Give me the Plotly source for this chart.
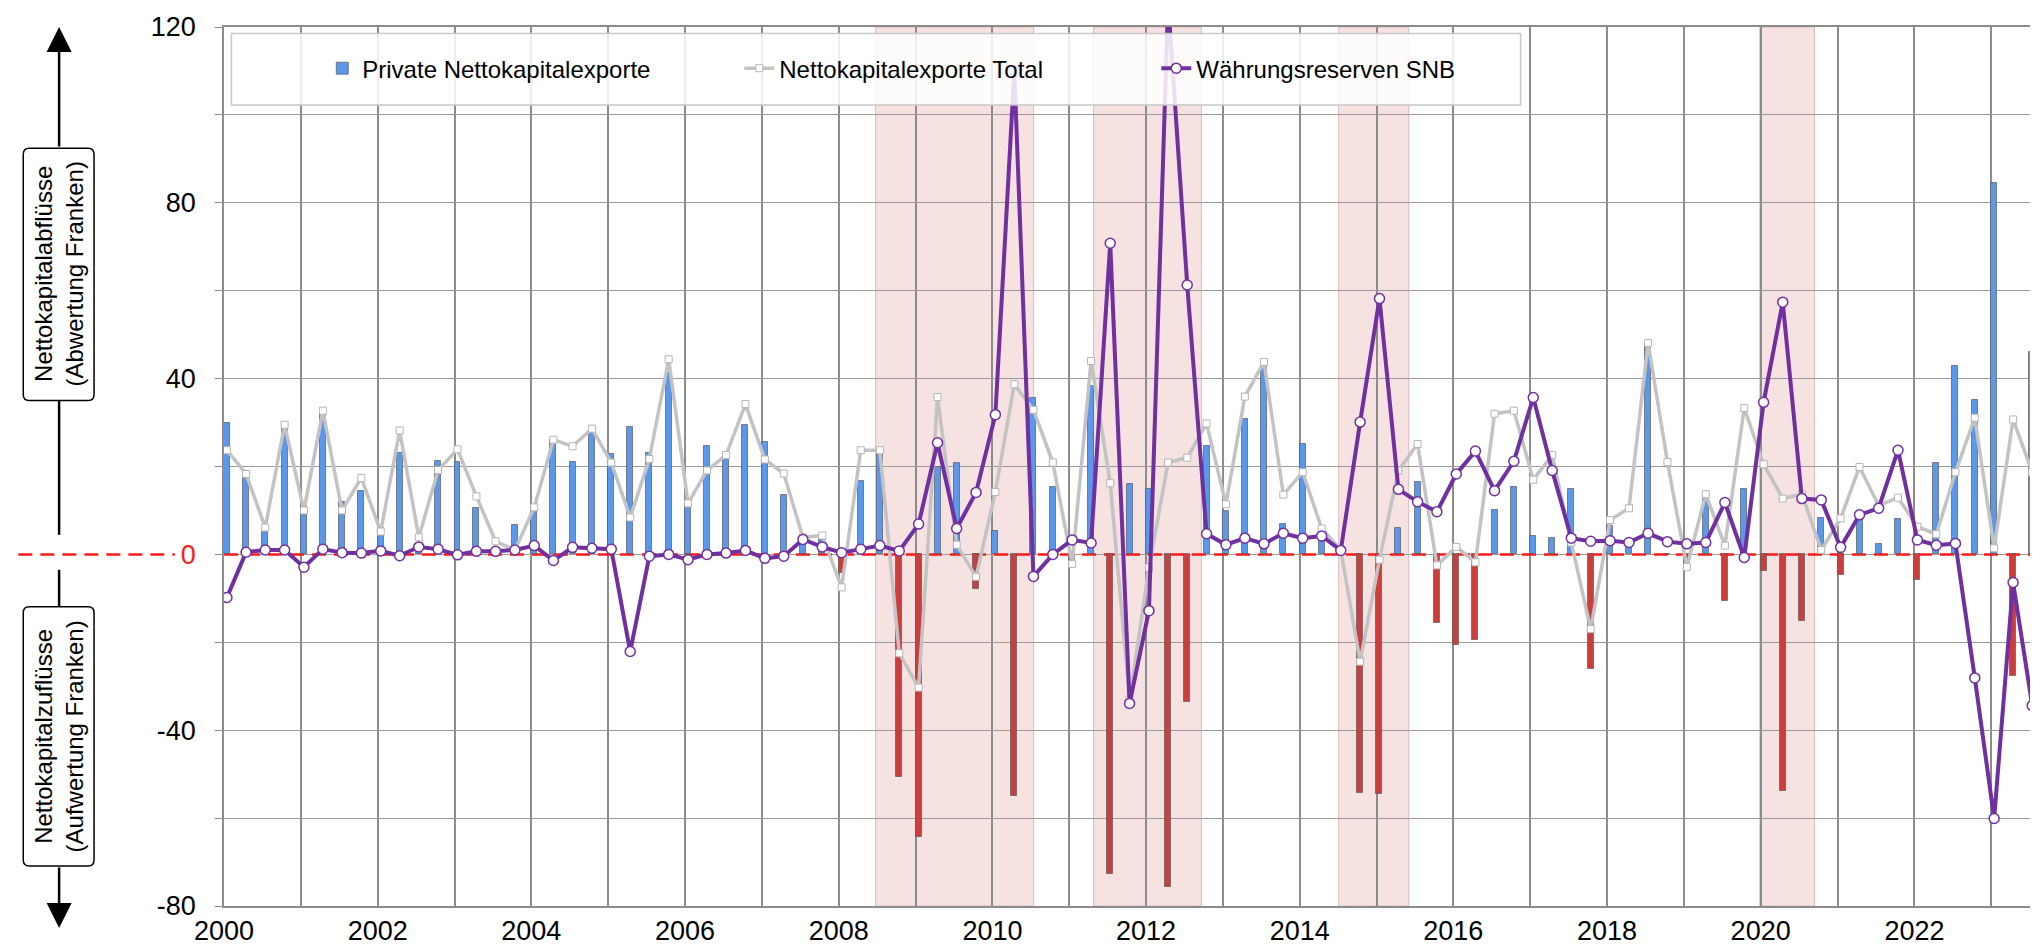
import pandas as pd
import plotly.graph_objects as go

FONT = "Liberation Sans, Arial, sans-serif"

# quarterly data, 2000Q1 .. 2023Q3 (bn CHF)
quarters = pd.period_range("2000Q1", "2023Q3", freq="Q")

private = [
    30, 17.4, 5.2, 29, 11, 32, 12, 14.5, 6, 23, 2, 21.3, 21, 10.5, 1, 6.7,
    10.2, 26.1, 21, 27.8, 22.9, 28.9, 23, 41.3, 11.1, 24.6, 21.7, 29.4, 25.5, 13.6, 3, 3.5,
    -4.2, 16.6, 23, -50.6, -64.3, 20, 20.9, -7.8, 5.4, -55, 35.7, 15.4, -1.5, 38.3, -72.8, 16.1,
    14.8, -75.7, -33.6, 24.6, 9.8, 30.8, 42.9, 6.9, 25.2, 5, 0.5, -54.2, -54.5, 5.9, 16.5, -15.6,
    -20.5, -19.5, 10, 15.4, 4.1, 3.7, 14.8, -26.1, 6.4, 1.4, 47.7, 0, -2, 13.5, -10.7, 14.8,
    -3.8, -53.9, -15.1, 8.2, -4.6, 8.5, 2.4, 8, -5.8, 20.9, 42.9, 35.2, 84.4, -27.7, 46.1,
]
total = [
    23.7, 18.3, 6.1, 29.5, 10, 32.7, 10, 17.4, 5.2, 28.2, 3.9, 19.2, 23.9, 13.2, 3, 1,
    10.7, 26.1, 24.6, 28.6, 20.9, 8.4, 21.7, 44.4, 11.6, 19.1, 22.6, 34.2, 21.6, 18.4, 3.9, 4.3,
    -7.5, 23.7, 23.7, -22.5, -30.3, 35.8, 2.2, -5.1, 14.2, 38.7, 32.9, 20.9, -2.2, 44, 16.2, -33,
    -3, 20.9, 22, 29.8, 11.4, 35.9, 43.8, 13.6, 18.7, 5.9, 1, -24.4, -1.2, 19.1, 25.1, -2.5,
    1.7, -1.8, 32, 32.7, 17, 22.6, 2.7, -17, 7.8, 10.5, 48.1, 21, -2.9, 13.7, 2, 33.3,
    20.5, 12.7, 13.7, 1, 8.2, 19.9, 11.1, 12.9, 6.3, 4.6, 18.7, 31.1, 1.4, 30.7, 18.7,
]
snb = [
    -9.8, 0.5, 1, 1, -2.9, 1.2, 0.4, 0.3, 0.8, -0.3, 1.7, 1.2, -0.1, 0.7, 0.7, 1,
    2, -1.4, 1.6, 1.4, 1.2, -22.1, -0.4, 0, -1.2, 0, 0.3, 0.9, -0.9, -0.4, 3.4, 1.7,
    0.4, 1.2, 2, 0.8, 6.9, 25.4, 5.9, 14.1, 31.8, 110, -5, 0, 3.3, 2.6, 70.8, -33.9,
    -12.8, 126, 61.3, 4.7, 2.2, 3.7, 2.4, 4.8, 3.7, 4.2, 0.9, 30.1, 58.2, 14.8, 12, 9.7,
    18.3, 23.5, 14.5, 21.2, 35.7, 19.1, 3.7, 3, 3.1, 2.7, 4.8, 2.9, 2.4, 2.7, 11.8, -0.7,
    34.6, 57.4, 12.7, 12.4, 1.6, 9, 10.5, 23.7, 3.3, 2.1, 2.5, -28.1, -60.1, -6.4, -34.4,
]

shade_periods = [
    ("2008-06-25", "2010-07-16"),
    ("2011-04-27", "2012-09-20"),
    ("2014-07-05", "2015-06-03"),
    ("2019-12-28", "2020-09-13"),
]

X_RANGE = ["2000-01-01", "2023-09-09"]
years = list(range(2000, 2024))
y_ticks = list(range(-80, 121, 20))

x = quarters.to_timestamp() + pd.Timedelta(days=14)
bar_colors = ["#5b97ea" if v >= 0 else "#cc3d3d" for v in private]

# plot area in pixels (for the decorations in the left margin)
PLOT_W, PLOT_H = 1822, 878.5


def rounded_box(x0, x1, y0, y1, r=6):
    rx, ry = r / PLOT_W, r / PLOT_H
    return (f"M{x0 + rx},{y0} L{x1 - rx},{y0} Q{x1},{y0} {x1},{y0 + ry} "
            f"L{x1},{y1 - ry} Q{x1},{y1} {x1 - rx},{y1} L{x0 + rx},{y1} "
            f"Q{x0},{y1} {x0},{y1 - ry} L{x0},{y0 + ry} Q{x0},{y0} {x0 + rx},{y0} Z")


fig = go.Figure()
fig.add_trace(go.Bar(
    x=x, y=private, name="Private Nettokapitalexporte",
    width=28.5 * 86400000,
    marker=dict(color=bar_colors, line=dict(color="rgba(90,90,90,0.7)", width=1)),
))
fig.add_trace(go.Scatter(
    x=x, y=total, name="Nettokapitalexporte Total", mode="lines+markers",
    line=dict(color="#c3c3c3", width=3.5),
    marker=dict(symbol="square", size=7, color="white", line=dict(color="#b5b5b5", width=1)),
))
fig.add_trace(go.Scatter(
    x=x, y=snb, name="Währungsreserven SNB", mode="lines+markers",
    line=dict(color="#7030a0", width=4),
    marker=dict(symbol="circle", size=10, color="white", line=dict(color="#7030a0", width=1.5)),
))

shapes = []
for start, end in shade_periods:
    shapes.append(dict(
        type="rect", xref="x", yref="paper", x0=start, x1=end, y0=0, y1=1,
        fillcolor="#f7e2e2", line=dict(color="#d9bcbc", width=1), layer="below",
    ))
# red dashed zero line (inside plot and into the tick-label margin)
shapes.append(dict(
    type="line", xref="x", yref="y", x0=X_RANGE[0], x1=X_RANGE[1], y0=0, y1=0,
    line=dict(color="#ff1a1a", width=2.5, dash="14px,8px"), layer="between",
))
shapes.append(dict(
    type="line", xref="paper", yref="y", x0=-0.113, x1=-0.027, y0=0, y1=0,
    line=dict(color="#ff1a1a", width=2.5, dash="14px,8px"), layer="above",
))
# legend frame
shapes.append(dict(
    type="rect", xref="paper", yref="paper", x0=0.0041, x1=0.7124, y0=0.9112, y1=0.9926,
    fillcolor="rgba(255,255,255,0.85)", line=dict(color="#c8c8c8", width=1.5), layer="above",
))
# left side: arrow stems and label boxes
ax_x = -0.0906
shapes.append(dict(type="line", xref="paper", yref="paper", x0=ax_x, x1=ax_x, y0=0.575, y1=0.4223,
                   line=dict(color="black", width=2.5), layer="above"))
shapes.append(dict(type="line", xref="paper", yref="paper", x0=ax_x, x1=ax_x, y0=0.3825, y1=0.3404,
                   line=dict(color="black", width=2.5), layer="above"))
for y0, y1 in [(0.575, 0.862), (0.0455, 0.3404)]:
    shapes.append(dict(type="path", xref="paper", yref="paper",
                       path=rounded_box(-0.1103, -0.0714, y0, y1),
                       fillcolor="white", line=dict(color="black", width=1.5), layer="above"))

annotations = [
    dict(xref="paper", yref="paper", x=ax_x, y=1.0, ax=0, ay=121, text="",
         showarrow=True, arrowhead=2, arrowsize=2, arrowwidth=2.5, arrowcolor="black"),
    dict(xref="paper", yref="paper", x=ax_x, y=-0.025, ax=0, ay=-62, text="",
         showarrow=True, arrowhead=2, arrowsize=2, arrowwidth=2.5, arrowcolor="black"),
    dict(xref="paper", yref="paper", x=ax_x, y=0.7185, xanchor="center", yanchor="middle",
         text="Nettokapitalabflüsse<br>(Abwertung Franken)", showarrow=False,
         textangle=-90, font=dict(family=FONT, size=24, color="black")),
    dict(xref="paper", yref="paper", x=ax_x, y=0.193, xanchor="center", yanchor="middle",
         text="Nettokapitalzuflüsse<br>(Aufwertung Franken)", showarrow=False,
         textangle=-90, font=dict(family=FONT, size=24, color="black")),
]

fig.update_layout(
    width=2038, height=949,
    margin=dict(l=216, r=0, t=19, b=51),
    paper_bgcolor="white", plot_bgcolor="white",
    font=dict(family=FONT, size=27, color="black"),
    bargap=0,
    showlegend=True,
    legend=dict(
        orientation="h", x=0.054, y=0.9527, xanchor="left", yanchor="middle",
        bgcolor="rgba(0,0,0,0)", borderwidth=0,
        font=dict(family=FONT, size=24, color="black"),
        entrywidth=372, entrywidthmode="pixels",
        traceorder="normal",
    ),
    shapes=shapes,
    annotations=annotations,
    xaxis=dict(
        type="date", range=X_RANGE,
        tickvals=[f"{y}-01-01" for y in years],
        ticktext=[str(y) if y % 2 == 0 else "" for y in years],
        showgrid=True, gridcolor="#8c8c8c", gridwidth=2,
        showline=True, linecolor="#8c8c8c", linewidth=1.5, mirror=True,
        ticks="", tickfont=dict(size=27), zeroline=False,
    ),
    yaxis=dict(
        range=[-80, 120],
        tickvals=y_ticks,
        ticktext=["<span style='color:#ff1a1a'>0</span>" if v == 0 else (str(v) if v % 40 == 0 else "")
                  for v in y_ticks],
        showgrid=True, gridcolor="#9a9a9a", gridwidth=1,
        showline=True, linecolor="#8c8c8c", linewidth=1.5, mirror=True,
        ticks="outside", ticklen=7, tickcolor="#8c8c8c", ticklabelstandoff=14,
        tickfont=dict(size=27), zeroline=False,
    ),
)

fig.write_html("out.html")
